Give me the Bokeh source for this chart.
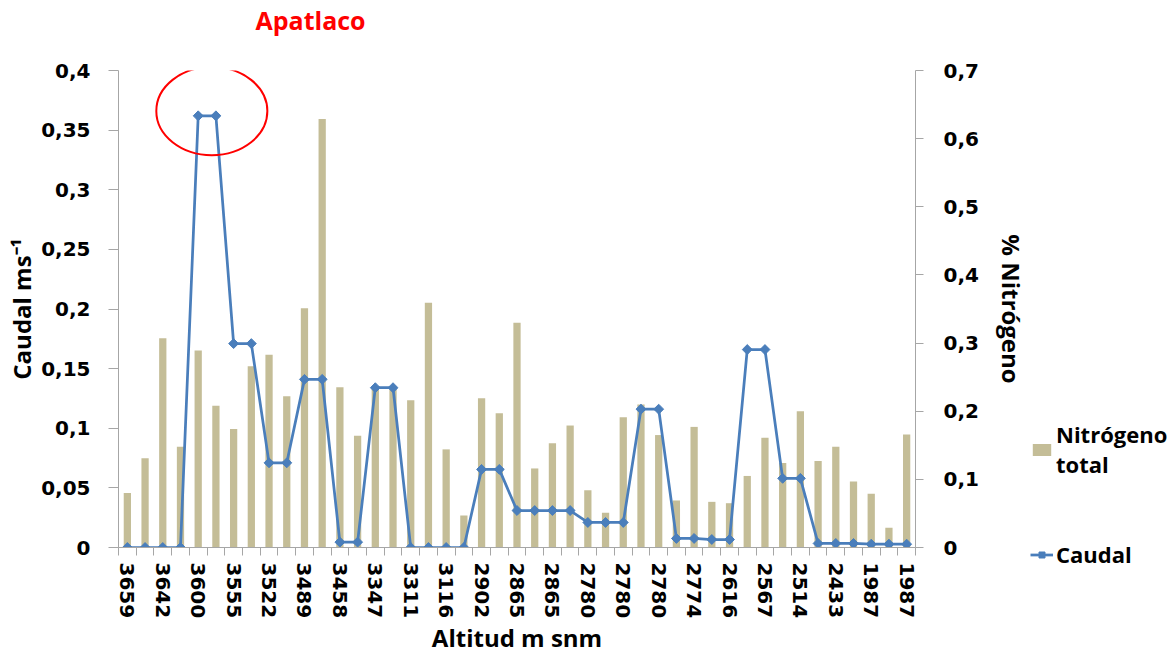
import math
from bokeh.plotting import figure
from bokeh.layouts import row
from bokeh.models import Range1d, LinearAxis, FixedTicker, Legend, LegendItem, Title
from bokeh.embed import file_html
from bokeh.resources import INLINE

# ---- data ----
shown_altitudes = ["3659", "3642", "3600", "3555", "3522", "3489", "3458", "3347",
                   "3311", "3116", "2902", "2865", "2865", "2780", "2780", "2780",
                   "2774", "2616", "2567", "2514", "2433", "1987", "1987"]
nitrogeno = [0.080, 0.131, 0.307, 0.148, 0.289, 0.208, 0.174, 0.266, 0.283, 0.222,
             0.351, 0.629, 0.235, 0.164, 0.236, 0.236, 0.216, 0.359, 0.144, 0.047,
             0.219, 0.197, 0.330, 0.116, 0.153, 0.179, 0.084, 0.051, 0.191, 0.210,
             0.165, 0.069, 0.177, 0.067, 0.065, 0.105, 0.161, 0.124, 0.200, 0.127,
             0.148, 0.097, 0.079, 0.029, 0.166]
caudal = [0, 0, 0, 0, 0.362, 0.362, 0.171, 0.171, 0.071, 0.071,
          0.141, 0.141, 0.0045, 0.0045, 0.134, 0.134, 0, 0, 0, 0,
          0.0655, 0.0655, 0.031, 0.031, 0.031, 0.031, 0.021, 0.021, 0.021, 0.116,
          0.116, 0.0076, 0.0076, 0.0067, 0.0067, 0.166, 0.166, 0.058, 0.058, 0.0034,
          0.0034, 0.0034, 0.0028, 0.0028, 0.0028]
left_ticks = [0, 0.05, 0.1, 0.15, 0.2, 0.25, 0.3, 0.35, 0.4]
right_ticks = [0, 0.1, 0.2, 0.3, 0.4, 0.5, 0.6, 0.7]

n = len(caudal)
xs = list(range(1, n + 1))

FONT = "Open Sans"
TICK_FONT = "DejaVu Sans"
AXIS_GREY = "#A6A6A6"
BAR_COLOR = "#C4BD97"
LINE_COLOR = "#4A7EBB"

MAIN_W, LEG_W, H = 1030, 139, 657

p = figure(width=MAIN_W, height=H, x_range=Range1d(0.5, n + 0.5), y_range=Range1d(0, 0.4),
           output_backend="svg", toolbar_location=None,
           min_border_left=118, min_border_right=109, min_border_top=70, min_border_bottom=110)
p.extra_y_ranges = {"nitro": Range1d(0, 0.7)}
p.outline_line_color = None
p.grid.visible = False

# visible title (outer) plus a spacer title between it and the plot frame
p.title.text = "Apatlaco"
p.title.text_color = "#FF0000"
p.title.text_font = FONT
p.title.text_font_style = "bold"
p.title.text_font_size = "25px"
p.title.align = "left"
p.title.offset = 137
p.title.standoff = 0
p.add_layout(Title(text=" ", text_font_size="1px", standoff=31), "above")

bars = p.vbar(x=xs, top=nitrogeno, width=0.41, fill_color=BAR_COLOR, line_color=None,
              y_range_name="nitro")
ln = p.line(xs, caudal, line_color=LINE_COLOR, line_width=2.75)
mk = p.scatter(xs, caudal, marker="square", angle=math.pi / 4, size=7,
               fill_color=LINE_COLOR, line_color=LINE_COLOR)

# highlight ellipse around the peak
peak = max(caudal)
peak_idx = [x for x, v in zip(xs, caudal) if v == peak]
cx = sum(peak_idx) / len(peak_idx) + 0.27
p.ellipse(x=[cx], y=[peak + 0.004], width=6.27, height=0.074, fill_color=None,
          line_color="#FF0000", line_width=2)

def style_axis(ax):
    ax.axis_line_color = AXIS_GREY
    ax.major_tick_line_color = AXIS_GREY
    ax.minor_tick_line_color = AXIS_GREY
    ax.major_label_text_font = TICK_FONT
    ax.major_label_text_font_style = "bold"
    ax.major_label_text_font_size = "20px"
    ax.major_label_text_color = "black"
    ax.axis_label_text_font = FONT
    ax.axis_label_text_font_style = "bold"
    ax.axis_label_text_font_size = "24px"
    ax.axis_label_text_color = "black"

# left axis
yl = p.yaxis[0]
style_axis(yl)
yl.ticker = FixedTicker(ticks=left_ticks, minor_ticks=[])
yl.major_label_overrides = {t: (f"{t:g}").replace(".", ",") for t in left_ticks}
yl.major_tick_out = 10
yl.major_tick_in = 0
yl.major_label_standoff = 18
yl.axis_label = "Caudal ms⁻¹"
yl.axis_label_standoff = 0

# right axis
yr = LinearAxis(y_range_name="nitro", axis_label="% Nitrógeno")
style_axis(yr)
yr.ticker = FixedTicker(ticks=right_ticks, minor_ticks=[])
yr.major_label_overrides = {t: (f"{t:g}").replace(".", ",") for t in right_ticks}
yr.major_tick_out = 8
yr.major_tick_in = 0
yr.major_label_standoff = 20
yr.axis_label_standoff = 13
p.add_layout(yr, "right")

# x axis
xa = p.xaxis[0]
style_axis(xa)
label_pos = xs[::2]
xa.ticker = FixedTicker(ticks=label_pos, minor_ticks=[x + 0.5 for x in range(0, n + 1)])
xa.major_label_overrides = {pos: lab for pos, lab in zip(label_pos, shown_altitudes)}
xa.major_label_orientation = "vertical"
xa.major_tick_out = 0
xa.major_tick_in = 0
xa.minor_tick_out = 8
xa.minor_tick_in = 0
xa.major_label_standoff = 7
xa.axis_label = "Altitud m snm"
xa.axis_label_standoff = 0

# ---- legend panel (separate narrow plot to the right) ----
# same series drawn again, but outside this panel's visible range: they only supply
# the legend glyph styles
pl = figure(width=LEG_W, height=H, x_range=Range1d(-3, -2), y_range=Range1d(0, 1),
            output_backend="svg", toolbar_location=None, x_axis_type=None, y_axis_type=None,
            min_border=0, min_border_left=0, min_border_right=0,
            min_border_top=0, min_border_bottom=0)
pl.outline_line_color = None
unaligned = "frame_align" in pl.properties()
if unaligned:
    pl.frame_align = False
lb = pl.vbar(x=xs, top=nitrogeno, width=0.41, fill_color=BAR_COLOR, line_color=None)
ll = pl.line(xs, caudal, line_color=LINE_COLOR, line_width=2.75)
lm = pl.scatter(xs, caudal, marker="square", angle=math.pi / 4, size=7,
                fill_color=LINE_COLOR, line_color=LINE_COLOR)
legend = Legend(items=[LegendItem(label="Nitrógeno\ntotal", renderers=[lb]),
                       LegendItem(label="Caudal", renderers=[ll, lm])],
                location=(0, 88) if unaligned else (0, -22))
legend.background_fill_alpha = 0
legend.border_line_color = None
legend.label_text_font = FONT
legend.label_text_font_style = "bold"
legend.label_text_font_size = "22px"
legend.label_text_color = "black"
legend.glyph_width = 23
legend.glyph_height = 15
legend.label_standoff = 3
legend.padding = 0
legend.margin = 0
legend.spacing = 60
pl.add_layout(legend, "center")

layout = row(p, pl, spacing=0)
open("out.html", "w").write(file_html(layout, INLINE))
